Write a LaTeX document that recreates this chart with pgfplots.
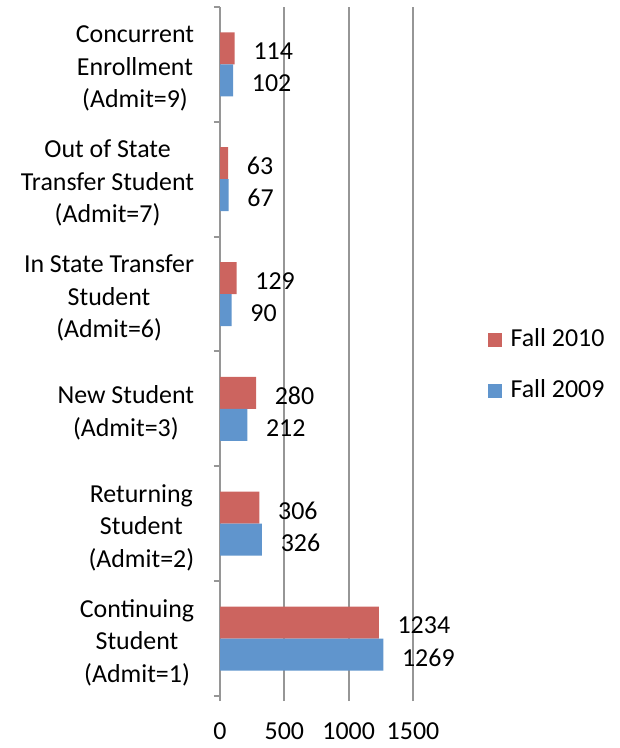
\documentclass[border=0pt]{standalone}
\usepackage{pgfplots}
\pgfplotsset{compat=1.18}
\usepackage{fontspec}
\setmainfont{Carlito}
\definecolor{redbar}{RGB}{204,100,95}
\definecolor{bluebar}{RGB}{96,149,205}
\definecolor{gridgray}{RGB}{150,150,150}
\begin{document}
\fontsize{26}{32.5}\selectfont
\begin{tikzpicture}
\useasboundingbox (0,0) rectangle (620bp,748bp);
\begin{axis}[
  at={(220bp,52bp)}, anchor=south west,
  scale only axis, width=193bp, height=689bp,
  xbar, bar width=32bp,
  xmin=0, xmax=1500, ymin=-0.5, ymax=5.5,
  axis lines=left,
  x axis line style={draw=none},
  y axis line style={draw=gridgray, line width=2bp, -},
  xtick={0,500,1000,1500},
  xmajorgrids, grid style={draw=gridgray, line width=2bp},
  tick align=outside,
  xtick style={draw=gridgray, line width=2bp},
  major tick length=5bp,
  ytick={0,1,2,3,4,5},
  ytick style={draw=none},
  minor ytick={-0.5,0.5,1.5,2.5,3.5,4.5,5.5},
  minor tick length=6bp,
  minor y tick style={draw=gridgray, line width=2bp},
  yticklabels={{Continuing\\Student\\(Admit=1)},{Returning\\Student\\(Admit=2)},{New Student\\(Admit=3)},{In State Transfer\\Student\\(Admit=6)},{Out of State\\Transfer Student\\(Admit=7)},{Concurrent\\Enrollment\\(Admit=9)}},
  yticklabel style={align=center, xshift=-12bp, yshift=-4bp},
  xticklabel style={yshift=-13bp},
  /pgf/number format/.cd, 1000 sep={}, assume math mode=true,
  /pgfplots/.cd,
  nodes near coords,
  nodes near coords style={anchor=west, xshift=10bp, yshift=-3bp, text=black},
  legend style={at={(1.37,0.48)}, anchor=west, draw=none, fill=none, row sep=25bp,
    /tikz/every even column/.append style={column sep=0bp}},
  legend cell align=left,
  legend image code/.code={\fill[#1] (0bp,-7bp) rectangle (14bp,7bp);},
  legend style={nodes={inner xsep=9bp}},
]
\addplot[fill=redbar, draw=none, bar shift=16bp] coordinates {(1234,0) (306,1) (280,2) (129,3) (63,4) (114,5)};
\addlegendentry{Fall 2010}
\addplot[fill=bluebar, draw=none, bar shift=-16bp] coordinates {(1269,0) (326,1) (212,2) (90,3) (67,4) (102,5)};
\addlegendentry{Fall 2009}
\end{axis}
\end{tikzpicture}
\end{document}
